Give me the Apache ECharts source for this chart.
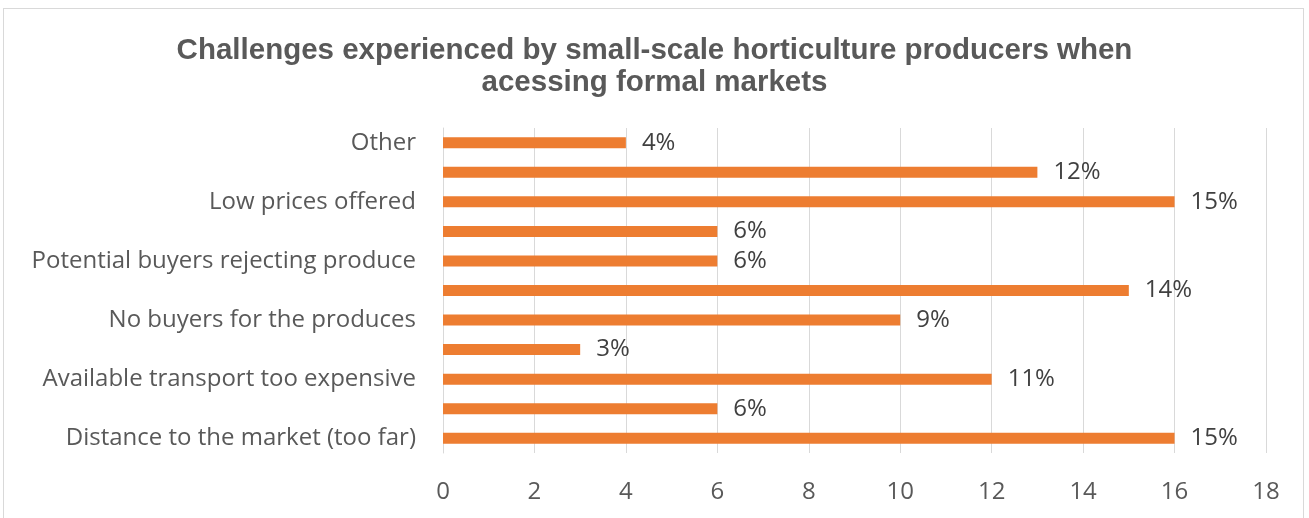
<!DOCTYPE html>
<html>
<head>
<meta charset="utf-8">
<script src="https://cdn.jsdelivr.net/npm/echarts@6/dist/echarts.min.js"></script>
<style>
  html, body { margin: 0; padding: 0; background: #fff; overflow: hidden; }
  .frame {
    position: absolute; left: 3px; top: 8px; width: 1301px; height: 560px;
    border: 1px solid #d9d9d9; box-sizing: border-box;
  }
  #chart { position: absolute; left: 0; top: 0; width: 1309px; height: 518px; }
</style>
</head>
<body>
<div class="frame"></div>
<div id="chart"></div>
<script>
// categories bottom -> top; Excel hides every other label
const categories = [
  'Distance to the market (too far)', '',
  'Available transport too expensive', '',
  'No buyers for the produces', '',
  'Potential buyers rejecting produce', '',
  'Low prices offered', '',
  'Other'
];
const barValues = [16, 6, 12, 3, 10, 15, 6, 6, 16, 13, 4];
const percentLabels = [15, 6, 11, 3, 9, 14, 6, 6, 15, 12, 4];
const xTicks = { min: 0, max: 18, interval: 2 };

const chart = echarts.init(document.getElementById('chart'));

chart.setOption({
  animation: false,
  title: {
    text: 'Challenges experienced by small-scale horticulture producers when\nacessing formal markets',
    left: 'center',
    top: 30,
    textStyle: {
      fontFamily: 'Liberation Sans',
      fontWeight: 'bold',
      fontSize: 29.5,
      color: '#595959',
      lineHeight: 32
    }
  },
  grid: { left: 443, right: 43, top: 128, bottom: 65 },
  xAxis: {
    type: 'value',
    min: xTicks.min,
    max: xTicks.max,
    interval: xTicks.interval,
    axisLine: { show: false },
    axisTick: { show: false },
    splitLine: { lineStyle: { color: '#d9d9d9', width: 1 } },
    axisLabel: {
      fontFamily: 'Open Sans',
      fontSize: 24,
      color: '#595959',
      margin: 27
    }
  },
  yAxis: {
    type: 'category',
    data: categories,
    axisLine: { lineStyle: { color: '#d9d9d9' } },
    axisTick: { show: false },
    axisLabel: {
      interval: 0,
      fontFamily: 'Open Sans',
      fontSize: 24,
      color: '#595959',
      margin: 27
    }
  },
  series: [
    {
      type: 'bar',
      data: barValues,
      barWidth: 11,
      itemStyle: { color: '#ed7d31' },
      label: {
        show: true,
        position: 'right',
        distance: 16,
        fontFamily: 'Open Sans',
        fontSize: 24,
        color: '#404040',
        formatter: (p) => percentLabels[p.dataIndex] + '%'
      }
    }
  ]
});
</script>
</body>
</html>
